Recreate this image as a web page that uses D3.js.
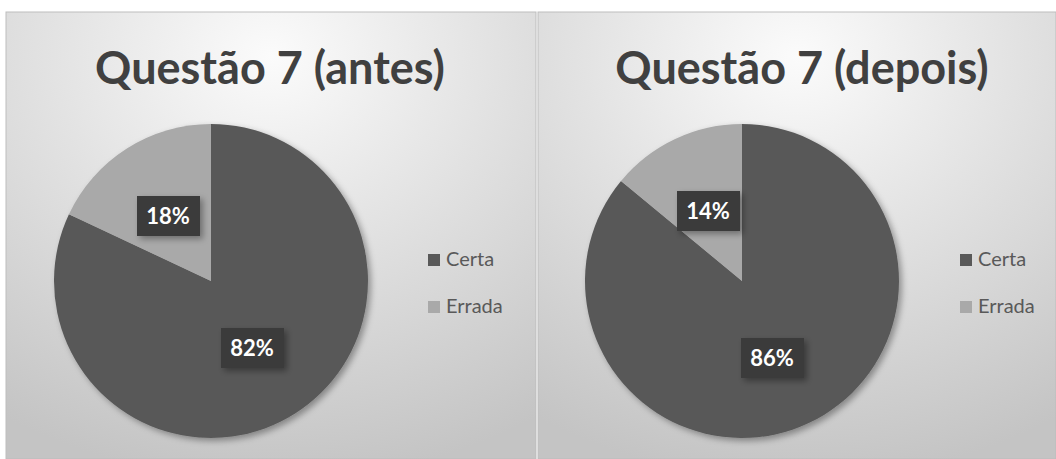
<!DOCTYPE html>
<html>
<head>
<meta charset="utf-8">
<script src="https://cdn.jsdelivr.net/npm/d3@7"></script>
<style>
  body { margin: 0; background: #ffffff; }
  svg { display: block; }
</style>
</head>
<body>
<div id="chart"></div>
<script>
// Data
const categories = ['Certa', 'Errada'];
const titles = ['Questão 7 (antes)', 'Questão 7 (depois)'];
const antesValues = [82, 18];
const depoisValues = [86, 14];

const W = 1056, H = 459;
const colors = d3.scaleOrdinal().domain(categories).range(['#595959', '#a9a9a9']);

const svg = d3.select('#chart')
  .append('svg')
  .attr('width', W)
  .attr('height', H);

const defs = svg.append('defs');

// background gradient of each panel
const bg = defs.append('radialGradient')
  .attr('id', 'panel-bg')
  .attr('cx', '50%').attr('cy', '10%')
  .attr('r', '95%');
bg.append('stop').attr('offset', '0%').attr('stop-color', '#fbfbfb');
bg.append('stop').attr('offset', '45%').attr('stop-color', '#e2e2e2');
bg.append('stop').attr('offset', '100%').attr('stop-color', '#c4c4c4');

// drop shadow
const shadow = defs.append('filter')
  .attr('id', 'shadow')
  .attr('x', '-20%').attr('y', '-20%')
  .attr('width', '150%').attr('height', '150%');
shadow.append('feDropShadow')
  .attr('dx', 3).attr('dy', 3)
  .attr('stdDeviation', 3)
  .attr('flood-color', '#000')
  .attr('flood-opacity', 0.35);

const panels = [
  { x: 6, w: 530, title: titles[0], values: antesValues },
  { x: 538, w: 518, title: titles[1], values: depoisValues }
];

const pie = d3.pie().sort(null).value(d => d.value);
const radius = 157;
const arc = d3.arc().innerRadius(0).outerRadius(radius);

panels.forEach((p, i) => {
  const g = svg.append('g').attr('transform', `translate(${p.x},12)`);

  // panel background
  g.append('rect')
    .attr('width', p.w)
    .attr('height', H - 12)
    .style('fill', 'url(#panel-bg)')
    .style('stroke', '#bdbdbd')
    .style('stroke-width', 1);

  // title
  g.append('text')
    .attr('x', i === 0 ? 264 : 264)
    .attr('y', 72)
    .attr('text-anchor', 'middle')
    .style('font-family', 'Lato, sans-serif')
    .style('font-weight', 'bold')
    .style('font-size', '45px')
    .style('fill', '#404040')
    .text(p.title);

  // pie
  const cx = i === 0 ? 205 : 204;
  const cy = 269;
  const pieG = g.append('g')
    .attr('transform', `translate(${cx},${cy})`);

  const data = pie(categories.map((c, k) => ({ cat: c, value: p.values[k] })));

  pieG.append('g')
    .attr('filter', 'url(#shadow)')
    .selectAll('path')
    .data(data)
    .enter()
    .append('path')
    .attr('d', arc)
    .style('fill', d => colors(d.data.cat));

  // data labels
  const labelPos = [
    i === 0 ? [41, 67] : [30, 77],
    i === 0 ? [-43, -65] : [-34, -70]
  ];
  data.forEach((d, k) => {
    const lg = pieG.append('g')
      .attr('transform', `translate(${labelPos[k][0]},${labelPos[k][1]})`);
    lg.append('rect')
      .attr('x', -31).attr('y', -20)
      .attr('width', 63).attr('height', 40)
      .attr('filter', 'url(#shadow)')
      .style('fill', '#3b3b3b');
    lg.append('text')
      .attr('y', 8)
      .attr('text-anchor', 'middle')
      .style('font-family', 'Lato, sans-serif')
      .style('font-weight', 'bold')
      .style('font-size', '22px')
      .style('fill', '#ffffff')
      .text(d.data.value + '%');
  });

  // legend
  const legend = g.append('g')
    .attr('transform', 'translate(416,0)');
  categories.forEach((c, k) => {
    const y = 242 + k * 47;
    legend.append('rect')
      .attr('x', 6).attr('y', y)
      .attr('width', 12).attr('height', 12)
      .style('fill', colors(c));
    legend.append('text')
      .attr('x', 24)
      .attr('y', y + 12)
      .style('font-family', 'Lato, sans-serif')
      .style('font-size', '20px')
      .style('fill', '#595959')
      .text(c);
  });
});
</script>
</body>
</html>
